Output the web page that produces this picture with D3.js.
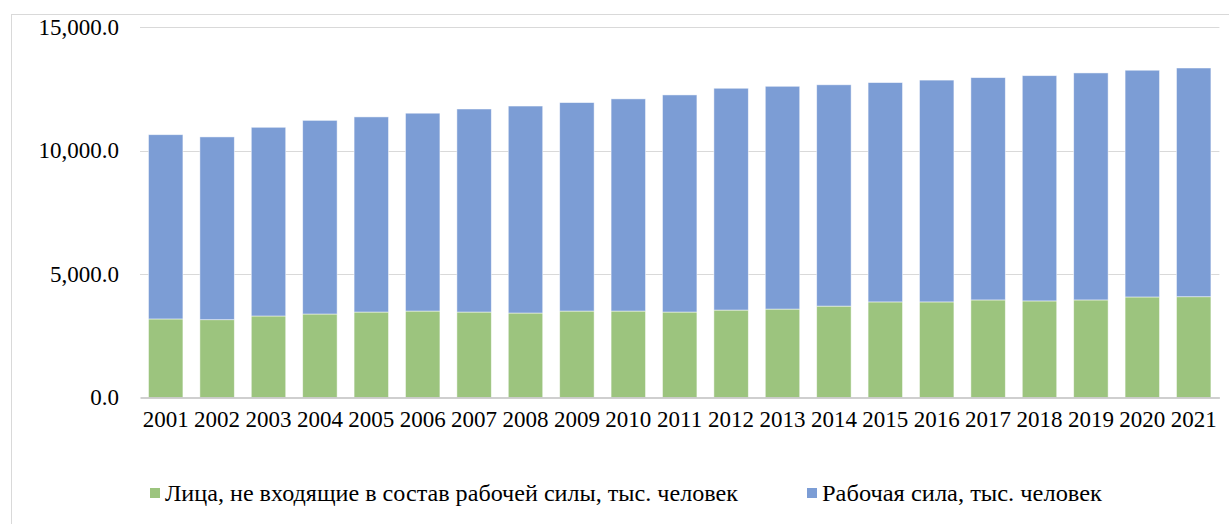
<!DOCTYPE html>
<html>
<head>
<meta charset="utf-8">
<script src="https://cdn.jsdelivr.net/npm/d3@7"></script>
<style>
  body { margin: 0; background: #fff; }
  svg { display: block; }
</style>
</head>
<body>
<svg id="chart"></svg>
<script>
// data (thousand persons)
var years = ["2001","2002","2003","2004","2005","2006","2007","2008","2009","2010","2011",
             "2012","2013","2014","2015","2016","2017","2018","2019","2020","2021"];
var notInLabour = [3180,3150,3300,3380,3460,3500,3460,3420,3500,3500,3460,
                   3540,3580,3700,3870,3870,3950,3910,3950,4070,4080];
var labourForce = [7460,7400,7640,7840,7900,8010,8220,8380,8440,8590,8790,
                   8980,9020,8960,8880,8980,9000,9120,9190,9180,9260];
var seriesNames = ["Лица, не входящие в состав рабочей силы, тыс. человек",
                   "Рабочая сила, тыс. человек"];
var yTicks = [0, 5000, 10000, 15000];

var serif = "'Liberation Serif', 'Times New Roman', serif";

(function stackedChart() {
    var svg = d3.select("#chart").attr("width", 1229).attr("height", 524),
        margin = {top: 27, left: 140},
        height = 370.5,
        g = svg.append("g").attr("transform", "translate(" + margin.left + "," + margin.top + ")");

    // outer chart border
    svg.append("rect")
        .attr("x", 11.5).attr("y", 14.5)
        .attr("width", 1240).attr("height", 530)
        .attr("fill", "none")
        .attr("stroke", "#d9d9d9");

    var keys = ["notInLabour", "labourForce"];
    var data = years.map(function (y, i) {
        return {year: y, notInLabour: notInLabour[i], labourForce: labourForce[i]};
    });

    var x = d3.scaleBand().domain(years).range([0, 21 * 51.4]).paddingInner(0.33).paddingOuter(0.165);
    var y = d3.scaleLinear().domain([0, 15000]).range([height, 0]);
    var z = d3.scaleOrdinal().domain(keys).range(["#9cc47e", "#7c9dd5"]);

    // gridlines
    g.append("g")
        .selectAll("line")
        .data(yTicks.slice(1))
        .enter().append("line")
        .attr("x1", 0).attr("x2", x.range()[1])
        .attr("y1", function (d) { return Math.round(y(d)) + 0.5; })
        .attr("y2", function (d) { return Math.round(y(d)) + 0.5; })
        .attr("stroke", "#d9d9d9")
        .attr("stroke-width", 1.2);

    // y axis labels
    var yAxis = g.append("g")
        .call(d3.axisLeft(y).tickValues(yTicks).tickSize(0).tickPadding(21)
            .tickFormat(function (d) { return d3.format(",.1f")(d); }))
        .attr("font-family", serif)
        .attr("font-size", 23);
    yAxis.select(".domain").remove();
    yAxis.selectAll("text")
        .style("font-family", serif)
        .style("font-size", "23px")
        .attr("fill", "#000");

    // stacked bars
    g.append("g")
        .selectAll("g")
        .data(d3.stack().keys(keys)(data))
        .enter().append("g")
        .attr("fill", function (d) { return z(d.key); })
        .selectAll("rect")
        .data(function (d) { return d; })
        .enter().append("rect")
        .attr("x", function (d) { return x(d.data.year); })
        .attr("y", function (d) { return y(d[1]); })
        .attr("width", x.bandwidth())
        .attr("height", function (d) { return y(d[0]) - y(d[1]); })
        .attr("stroke", "#ffffff")
        .attr("stroke-opacity", 0.6)
        .attr("stroke-width", 0.8);

    // x axis
    var xAxis = g.append("g")
        .attr("transform", "translate(0," + height + ")")
        .call(d3.axisBottom(x).tickSize(0).tickPadding(13))
        .attr("font-family", serif)
        .attr("font-size", 23);
    xAxis.select(".domain")
        .attr("stroke", "#bfbfbf")
        .attr("stroke-width", 1.5);
    xAxis.selectAll("text")
        .style("font-family", serif)
        .style("font-size", "23px")
        .attr("fill", "#000");

    // legend
    var legendX = [150, 807], legendW = [573, 280];
    var legend = svg.append("g")
        .selectAll("g")
        .data(keys)
        .enter().append("g")
        .attr("transform", function (d, i) { return "translate(" + legendX[i] + ",488)"; });

    legend.append("rect")
        .attr("width", 10).attr("height", 10)
        .attr("fill", z);

    legend.append("text")
        .attr("x", 15)
        .attr("y", 5)
        .attr("dy", "0.35em")
        .style("font-family", serif)
        .style("font-size", "23px")
        .attr("textLength", function (d, i) { return legendW[i]; })
        .attr("lengthAdjust", "spacingAndGlyphs")
        .text(function (d, i) { return seriesNames[i]; });
}());
</script>
</body>
</html>
